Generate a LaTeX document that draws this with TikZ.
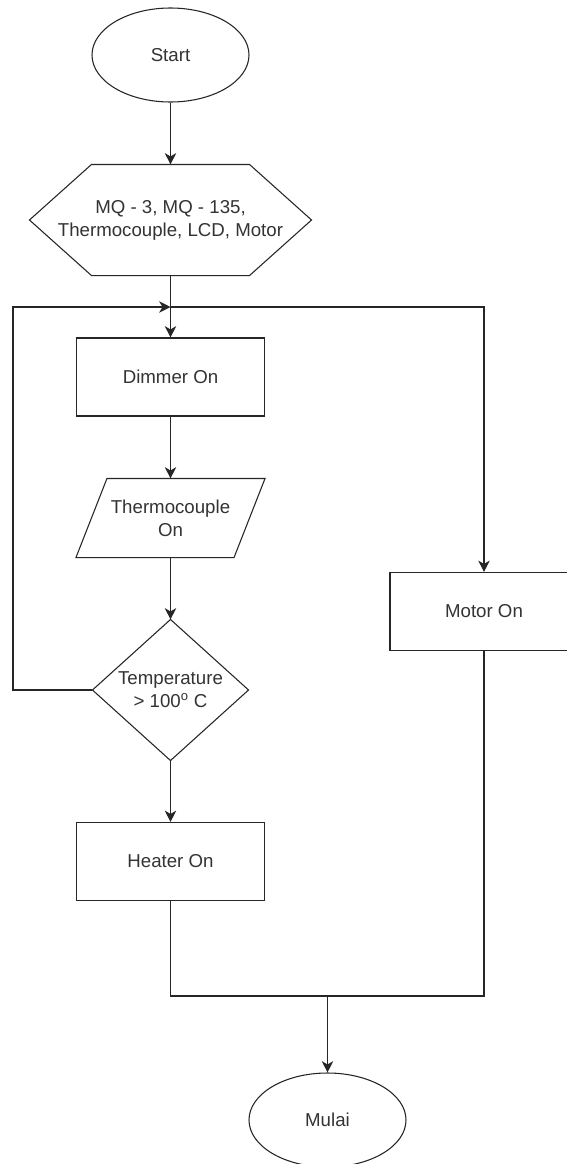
\documentclass[tikz,border=0pt]{standalone}
\usepackage{fontspec}
\setmainfont{Liberation Sans}
\usetikzlibrary{shapes.geometric,arrows.meta}
\begin{document}
\begin{tikzpicture}[x=0.75pt,y=-0.75pt,color=black!85,line width=0.8pt,
	every node/.style={font=\fontsize{14pt}{17.25pt}\selectfont, text=black!80, align=center},
	term/.style={draw, ellipse, minimum width=117.75pt, minimum height=70.5pt, inner sep=0pt},
	proc/.style={draw, rectangle, minimum width=141pt, minimum height=58.5pt, inner sep=0pt},
	bare/.style={inner sep=0pt},
	arr/.style={-{Stealth[length=8.5pt,width=8.5pt,inset=2.5pt]}}]
	\path[use as bounding box, fill=white] (0,0) rectangle (567,1164);
	\node[term] (start) at (170.5,55) {Start};
	\node[bare, minimum width=210.75pt, minimum height=82.5pt] (input) at (170.5,220) {MQ - 3, MQ - 135,\\Thermocouple, LCD, Motor};
	\draw (input.west) -- ([xshift=46.5pt]input.north west) -- ([xshift=-46.5pt]input.north east) -- (input.east) -- ([xshift=-46.5pt]input.south east) -- ([xshift=46.5pt]input.south west) -- cycle;
	\node[proc] (dimmer) at (170.5,377) {Dimmer On};
	\node[bare, minimum width=141pt, minimum height=58.5pt] (thermo) at (170.5,518) {Thermocouple\\On};
	\draw ([xshift=23.25pt]thermo.north west) -- (thermo.north east) -- ([xshift=-23.25pt]thermo.south east) -- (thermo.south west) -- cycle;
	\node[bare, minimum width=116.25pt, minimum height=105pt] (cond) at (170.5,690) {Temperature\\> 100\textsuperscript{o} C};
	\draw (cond.north) -- (cond.east) -- (cond.south) -- (cond.west) -- cycle;
	\node[proc] (heater) at (170.5,861.5) {Heater On};
	\node[proc] (motor) at (484,611.5) {Motor On};
	\node[term] (stop) at (327.5,1120) {Mulai};
	\coordinate (join) at (170.5,307);
	\coordinate (back) at (13,307);
	\coordinate (merge) at (327.5,996);
	\draw[arr] (start.south) -- (input.north);
	\draw[arr] (input.south) -- (dimmer.north);
	\draw[arr] (cond.west) -| (back) -- (join);
	\draw[arr] (join) -| (motor.north);
	\draw[arr] (dimmer.south) -- (thermo.north);
	\draw[arr] (thermo.south) -- (cond.north);
	\draw[arr] (cond.south) -- (heater.north);
	\draw (heater.south) |- (merge) -| (motor.south);
	\draw[arr] (merge) -- (stop.north);
\end{tikzpicture}
\end{document}
